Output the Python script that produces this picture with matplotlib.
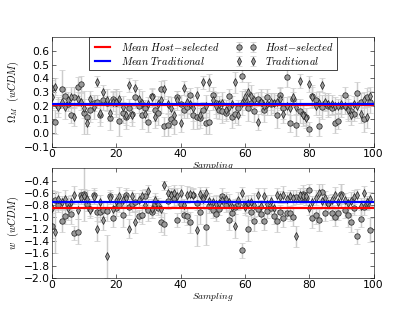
import numpy as np
import matplotlib
matplotlib.use('Agg')
import matplotlib.pyplot as plt

plt.rcParams.update({'font.family': 'DejaVu Sans', 'mathtext.fontset': 'cm',
                     'font.size': 12})

# ---- data ----
sampling = list(range(100))

om_host = [0.33, 0.08, 0.20, 0.32, 0.27, 0.21, 0.13, 0.26, 0.34, 0.36,
           0.15, 0.12, 0.17, 0.22, 0.23, 0.13, 0.24, 0.22, 0.11, 0.25,
           0.22, 0.09, 0.15, 0.12, 0.18, 0.14, 0.26, 0.20, 0.13, 0.18,
           0.08, 0.27, 0.17, 0.15, 0.32, 0.05, 0.06, 0.10, 0.08, 0.26,
           0.21, 0.17, 0.19, 0.28, 0.13, 0.12, 0.11, 0.17, 0.07, 0.08,
           0.28, 0.22, 0.17, 0.16, 0.15, 0.27, 0.12, 0.14, 0.18, 0.42,
           0.24, 0.18, 0.22, 0.16, 0.25, 0.23, 0.17, 0.26, 0.21, 0.22,
           0.13, 0.28, 0.18, 0.41, 0.07, 0.25, 0.06, 0.16, 0.14, 0.12,
           0.03, 0.27, 0.24, 0.05, 0.19, 0.22, 0.20, 0.18, 0.07, 0.09,
           0.20, 0.28, 0.19, 0.16, 0.14, 0.29, 0.23, 0.10, 0.26, 0.23]
om_host_err = [0.06, 0.09, 0.05, 0.14, 0.07, 0.05, 0.06, 0.08, 0.07, 0.06,
               0.16, 0.07, 0.09, 0.06, 0.05, 0.08, 0.07, 0.05, 0.09, 0.06,
               0.10, 0.11, 0.08, 0.09, 0.07, 0.06, 0.08, 0.05, 0.10, 0.06,
               0.07, 0.05, 0.08, 0.09, 0.06, 0.07, 0.08, 0.06, 0.09, 0.05,
               0.07, 0.06, 0.08, 0.05, 0.10, 0.09, 0.07, 0.06, 0.08, 0.09,
               0.06, 0.08, 0.07, 0.09, 0.06, 0.05, 0.08, 0.07, 0.06, 0.05,
               0.07, 0.09, 0.06, 0.08, 0.05, 0.07, 0.09, 0.06, 0.08, 0.07,
               0.09, 0.06, 0.08, 0.07, 0.06, 0.05, 0.08, 0.09, 0.07, 0.06,
               0.05, 0.08, 0.06, 0.07, 0.09, 0.06, 0.08, 0.05, 0.07, 0.06,
               0.08, 0.06, 0.09, 0.07, 0.05, 0.08, 0.06, 0.09, 0.07, 0.08]

om_trad = [0.26, 0.34, 0.19, 0.23, 0.19, 0.24, 0.26, 0.12, 0.25, 0.23,
           0.18, 0.07, 0.25, 0.19, 0.375, 0.15, 0.30, 0.24, 0.15, 0.23,
           0.23, 0.25, 0.19, 0.13, 0.35, 0.13, 0.33, 0.25, 0.22, 0.14,
           0.21, 0.26, 0.12, 0.21, 0.24, 0.32, 0.21, 0.18, 0.13, 0.24,
           0.07, 0.33, 0.23, 0.21, 0.18, 0.28, 0.13, 0.37, 0.20, 0.37,
           0.24, 0.20, 0.21, 0.22, 0.17, 0.19, 0.21, 0.37, 0.13, 0.22,
           0.26, 0.30, 0.27, 0.24, 0.08, 0.23, 0.20, 0.21, 0.23, 0.22,
           0.23, 0.25, 0.14, 0.20, 0.18, 0.26, 0.19, 0.38, 0.13, 0.11,
           0.36, 0.26, 0.20, 0.22, 0.35, 0.23, 0.21, 0.21, 0.20, 0.20,
           0.21, 0.20, 0.17, 0.13, 0.21, 0.20, 0.14, 0.24, 0.12, 0.27]
om_trad_err = [0.08, 0.06, 0.07, 0.05, 0.09, 0.06, 0.08, 0.07, 0.05, 0.06,
               0.07, 0.08, 0.06, 0.09, 0.04, 0.07, 0.05, 0.08, 0.06, 0.07,
               0.09, 0.06, 0.08, 0.07, 0.05, 0.08, 0.06, 0.07, 0.09, 0.06,
               0.05, 0.07, 0.08, 0.06, 0.09, 0.07, 0.06, 0.08, 0.05, 0.07,
               0.06, 0.05, 0.08, 0.07, 0.09, 0.06, 0.07, 0.05, 0.08, 0.06,
               0.07, 0.09, 0.06, 0.08, 0.07, 0.05, 0.06, 0.08, 0.07, 0.09,
               0.06, 0.07, 0.08, 0.05, 0.06, 0.09, 0.07, 0.08, 0.06, 0.07,
               0.05, 0.08, 0.07, 0.06, 0.09, 0.07, 0.06, 0.05, 0.08, 0.07,
               0.06, 0.08, 0.07, 0.09, 0.05, 0.06, 0.08, 0.07, 0.06, 0.05,
               0.07, 0.06, 0.08, 0.07, 0.06, 0.09, 0.07, 0.06, 0.08, 0.07]

w_host = [-1.14, -0.72, -0.80, -1.07, -0.98, -0.79, -0.95, -1.26, -1.24, -0.64,
          -0.62, -0.78, -0.86, -0.63, -0.92, -0.91, -0.88, -0.90, -0.66, -1.01,
          -0.85, -0.80, -0.96, -0.63, -0.83, -0.79, -0.76, -0.98, -0.96, -0.66,
          -0.88, -0.91, -0.79, -0.85, -1.08, -1.11, -0.74, -0.62, -0.68, -1.05,
          -0.79, -0.97, -0.99, -1.09, -0.64, -0.77, -0.92, -0.67, -1.16, -0.82,
          -0.88, -0.95, -0.86, -0.65, -0.80, -1.05, -0.93, -0.83, -0.78, -1.55,
          -0.80, -1.19, -0.92, -1.07, -0.86, -0.95, -1.07, -0.90, -0.85, -0.98,
          -1.06, -0.92, -1.02, -0.93, -0.94, -1.00, -0.67, -0.68, -0.62, -0.68,
          -0.55, -1.02, -0.97, -1.05, -0.58, -0.93, -0.77, -0.93, -1.00, -0.93,
          -0.62, -0.89, -0.97, -1.09, -0.85, -1.32, -1.03, -0.84, -0.78, -1.21]
w_host_err = [0.20, 0.15, 0.12, 0.18, 0.14, 0.10, 0.16, 0.12, 0.20, 0.10,
              0.45, 0.12, 0.15, 0.10, 0.14, 0.18, 0.12, 0.16, 0.10, 0.15,
              0.14, 0.12, 0.20, 0.10, 0.13, 0.12, 0.15, 0.10, 0.16, 0.12,
              0.18, 0.10, 0.14, 0.12, 0.16, 0.18, 0.12, 0.10, 0.14, 0.12,
              0.15, 0.12, 0.14, 0.18, 0.10, 0.12, 0.20, 0.12, 0.30, 0.12,
              0.14, 0.12, 0.10, 0.13, 0.12, 0.16, 0.14, 0.12, 0.10, 0.12,
              0.14, 0.20, 0.13, 0.16, 0.12, 0.15, 0.14, 0.12, 0.10, 0.14,
              0.18, 0.12, 0.14, 0.10, 0.12, 0.15, 0.12, 0.10, 0.14, 0.12,
              0.10, 0.16, 0.14, 0.18, 0.12, 0.14, 0.10, 0.12, 0.14, 0.12,
              0.16, 0.12, 0.20, 0.16, 0.12, 0.12, 0.14, 0.12, 0.10, 0.20]

w_trad = [-0.85, -1.24, -0.71, -0.76, -0.70, -0.85, -0.76, -0.64, -0.88, -0.68,
          -0.66, -0.70, -0.88, -0.67, -1.20, -0.76, -1.05, -1.65, -0.68, -0.87,
          -0.74, -0.65, -0.72, -0.68, -1.19, -0.66, -1.08, -0.72, -0.66, -0.80,
          -0.57, -0.86, -0.72, -0.78, -0.86, -0.48, -0.61, -0.63, -0.60, -0.66,
          -0.60, -0.80, -0.63, -0.62, -0.63, -1.22, -0.62, -0.70, -0.60, -0.73,
          -0.76, -0.78, -0.77, -0.72, -0.71, -0.76, -0.84, -1.15, -0.72, -0.61,
          -0.84, -0.77, -0.76, -0.80, -0.64, -0.82, -0.65, -0.78, -0.73, -0.85,
          -0.64, -0.67, -0.63, -0.71, -0.65, -0.68, -1.32, -0.63, -0.65, -0.66,
          -0.85, -0.76, -0.68, -0.60, -0.74, -0.69, -0.78, -0.72, -0.63, -0.75,
          -0.65, -0.72, -0.77, -0.73, -0.67, -0.64, -0.82, -0.61, -0.76, -0.70]
w_trad_err = [0.30, 0.35, 0.12, 0.10, 0.14, 0.20, 0.12, 0.15, 0.16, 0.10,
              0.12, 0.14, 0.10, 0.12, 0.20, 0.12, 0.16, 0.35, 0.10, 0.14,
              0.12, 0.15, 0.10, 0.12, 0.16, 0.10, 0.18, 0.12, 0.10, 0.14,
              0.10, 0.15, 0.12, 0.10, 0.14, 0.08, 0.12, 0.10, 0.12, 0.14,
              0.12, 0.10, 0.14, 0.12, 0.10, 0.25, 0.12, 0.14, 0.10, 0.12,
              0.10, 0.14, 0.12, 0.10, 0.12, 0.14, 0.12, 0.20, 0.14, 0.10,
              0.12, 0.14, 0.12, 0.20, 0.12, 0.10, 0.12, 0.14, 0.10, 0.12,
              0.12, 0.10, 0.14, 0.12, 0.10, 0.12, 0.18, 0.10, 0.12, 0.14,
              0.12, 0.10, 0.12, 0.14, 0.10, 0.12, 0.14, 0.10, 0.12, 0.14,
              0.20, 0.12, 0.10, 0.14, 0.12, 0.10, 0.14, 0.12, 0.10, 0.12]

om_mean_host, om_mean_trad = 0.205, 0.21
w_mean_host, w_mean_trad = -0.85, -0.76

# ---- figure ----
fig, (ax1, ax2) = plt.subplots(2, 1, figsize=(8, 6.0145), dpi=51.875)

eb_kw = dict(ls='none', ecolor='#cccccc', elinewidth=2, capsize=4,
             mfc='#999999', mec='#222222', mew=1, ms=7.5, zorder=2)

panels = [
    (ax1, om_host, om_host_err, om_trad, om_trad_err, om_mean_host, om_mean_trad,
     r'$\Omega_M\ \ (wCDM)$', (-0.1, 0.7), np.arange(-0.1, 0.61, 0.1)),
    (ax2, w_host, w_host_err, w_trad, w_trad_err, w_mean_host, w_mean_trad,
     r'$w\ \ (wCDM)$', (-2.0, -0.2), np.arange(-2.0, -0.39, 0.2)),
]

for ax, yh, eh, yt, et, mh, mt, ylab, ylim, yt_ticks in panels:
    h1 = ax.axhline(mh, color='red', lw=3, zorder=3, label=r'$Mean\ Host{-}selected$')
    h2 = ax.axhline(mt, color='blue', lw=3, zorder=3, label=r'$Mean\ Traditional$')
    e1 = ax.errorbar(sampling, yh, yerr=eh, fmt='o', label=r'$Host{-}selected$', **eb_kw)
    e2 = ax.errorbar(sampling, yt, yerr=et, fmt='d', label=r'$Traditional$', **eb_kw)
    ax.set_xlim(0, 100)
    ax.set_ylim(*ylim)
    ax.set_yticks(np.round(yt_ticks, 1))
    ax.set_ylabel(ylab, fontsize=14, labelpad=4)
    ax.set_xlabel(r'$Sampling$', fontsize=13, labelpad=2)
    ax.tick_params(direction='in', top=True, right=True, labelsize=15, length=6,
                   pad=3)

ax1.legend(handles=[h1, h2, e1, e2], ncol=2, numpoints=2, loc='upper center',
           bbox_to_anchor=(0.5, 1.0), borderaxespad=0, fontsize=14.5,
           fancybox=False, edgecolor='black', framealpha=1, handlelength=2,
           columnspacing=1.5, borderpad=0.3, labelspacing=0.2)

fig.savefig('out.png', dpi=51.875)
